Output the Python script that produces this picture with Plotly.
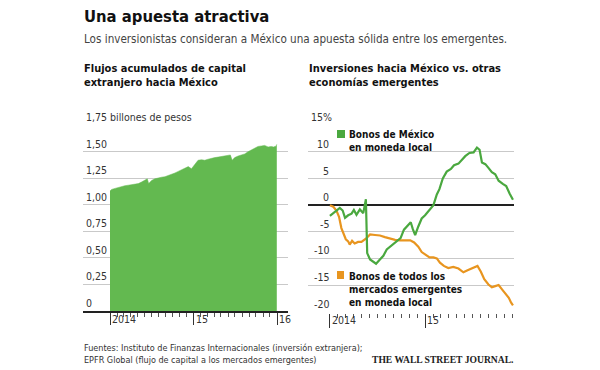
import plotly.graph_objects as go
import pandas as pd

# ---------------- data ----------------
flow_dates = ["2014-01-01","2014-01-08","2014-01-23","2014-02-06","2014-02-21","2014-03-07","2014-03-22",
              "2014-04-05","2014-04-20","2014-05-05","2014-05-19","2014-06-03","2014-06-13","2014-06-19",
              "2014-07-02","2014-07-16","2014-07-31","2014-08-14","2014-08-29","2014-09-12","2014-09-27",
              "2014-10-12","2014-10-26","2014-11-10","2014-11-24","2014-12-09","2014-12-23","2015-01-07",
              "2015-01-21","2015-02-05","2015-02-19","2015-03-06","2015-03-20","2015-04-04","2015-04-19",
              "2015-05-03","2015-05-18","2015-06-01","2015-06-11","2015-06-19","2015-06-30","2015-07-15",
              "2015-07-29","2015-08-13","2015-08-27","2015-09-11","2015-09-26","2015-10-10","2015-10-25",
              "2015-11-08","2015-11-23","2015-12-07","2015-12-17","2015-12-29","2015-12-31"]
flow_values = [1.13,1.145,1.155,1.165,1.17,1.18,1.185,
               1.19,1.19,1.20,1.215,1.235,1.245,1.20,
               1.23,1.245,1.255,1.26,1.265,1.275,1.285,
               1.30,1.315,1.33,1.35,1.36,1.34,1.38,
               1.42,1.425,1.42,1.43,1.44,1.445,1.45,
               1.455,1.46,1.465,1.47,1.42,1.445,1.46,
               1.47,1.48,1.50,1.515,1.535,1.55,1.555,
               1.56,1.545,1.55,1.545,1.555,1.57]

mx_dates = ["2014-01-01","2014-01-14","2014-02-08","2014-02-19","2014-02-28","2014-03-12","2014-03-25",
            "2014-04-03","2014-04-13","2014-04-26","2014-05-09","2014-05-19","2014-05-24","2014-06-04",
            "2014-06-16","2014-06-27","2014-07-10","2014-07-25","2014-08-07","2014-08-26","2014-09-14",
            "2014-09-29","2014-10-12","2014-10-29","2014-11-07","2014-11-15","2014-11-24","2014-12-06",
            "2014-12-19","2015-01-01","2015-01-18","2015-02-02","2015-02-15","2015-02-25","2015-03-10",
            "2015-03-25","2015-04-10","2015-04-22","2015-05-09","2015-05-22","2015-06-04","2015-06-20",
            "2015-07-06","2015-07-19","2015-07-29","2015-08-07","2015-08-20","2015-09-01","2015-09-14",
            "2015-09-27","2015-10-10","2015-10-26","2015-11-08","2015-11-21","2015-12-04"]
mx_values = [-2.0,-1.5,-0.5,-1.0,-2.4,-1.9,-1.6,
             -0.9,-1.8,-0.8,-1.5,1.1,-9.0,-10.2,
             -10.6,-11.0,-10.3,-9.5,-8.3,-7.6,-6.9,
             -6.2,-4.6,-3.8,-3.2,-4.5,-5.6,-4.0,
             -2.5,-1.9,-1.0,0.0,2.0,3.0,5.0,
             6.3,6.8,7.5,7.8,8.5,9.2,9.8,
             9.9,10.8,10.4,8.0,7.7,7.0,6.2,
             5.8,4.6,4.0,3.6,2.2,1.0]

em_dates = ["2014-01-01","2014-01-14","2014-01-26","2014-02-05","2014-02-14","2014-02-23","2014-03-03",
            "2014-03-12","2014-03-18","2014-03-27","2014-04-06","2014-04-19","2014-05-02","2014-05-19",
            "2014-06-04","2014-06-23","2014-07-12","2014-07-31","2014-08-20","2014-09-08","2014-09-27",
            "2014-10-16","2014-11-05","2014-11-20","2014-12-06","2014-12-19","2015-01-01","2015-01-18",
            "2015-02-02","2015-02-15","2015-02-27","2015-03-14","2015-03-31","2015-04-19","2015-05-09",
            "2015-05-28","2015-06-13","2015-06-30","2015-07-21","2015-08-03","2015-08-16","2015-09-01",
            "2015-09-14","2015-09-27","2015-10-10","2015-10-23","2015-11-05","2015-11-18","2015-11-27",
            "2015-12-04"]
em_values = [0.0,-0.3,-1.0,-2.2,-4.3,-5.5,-6.4,
             -6.8,-7.4,-6.7,-7.2,-6.9,-6.9,-6.3,
             -5.5,-5.6,-5.7,-6.0,-6.3,-6.5,-6.6,
             -6.6,-6.6,-7.0,-7.8,-8.8,-9.3,-9.8,
             -9.8,-10.0,-10.8,-11.4,-11.8,-11.6,-11.9,
             -12.6,-12.2,-11.9,-11.4,-12.5,-13.9,-14.9,
             -15.4,-15.2,-15.0,-15.8,-16.6,-17.4,-18.3,
             -18.8]

left_ytick_vals = [0, 0.25, 0.5, 0.75, 1.0, 1.25, 1.5, 1.75]
left_ytick_text = ["0", "0,25", "0,50", "0,75", "1,00", "1,25", "1,50", "1,75 billones de pesos"]
right_ytick_vals = [-20, -15, -10, -5, 0, 5, 10, 15]
right_ytick_text = ["-20", "-15", "-10", "-5", "0", "5", "10", "15%"]
left_xtick_vals = ["2014-01-01", "2015-01-01", "2016-01-01"]
left_xtick_text = ["2014", "15", "16"]
right_xtick_vals = ["2014-01-01", "2015-01-01"]
right_xtick_text = ["2014", "15"]

# ---------------- styling ----------------
# the page body has an 8px margin, so the figure is sized/offset to fill the 600x370 window
OX, OY = 8, 8
W, H = 600 - OX, 370 - OY
FONT = "DejaVu Sans Condensed, Liberation Sans Narrow, sans-serif"
GREEN_FILL = "#63b950"
GREEN_LINE = "#4aa83f"
ORANGE = "#e8951f"
GRID = "#c9c9c9"
TXT = "#222222"

def px(x):
    return (x - OX) / W

def py(y):
    return 1 - (y - OY) / H

left_minor = [d.strftime("%Y-%m-%d") for d in pd.date_range("2014-02-01", "2015-12-01", freq="MS")]
right_minor = [d.strftime("%Y-%m-%d") for d in pd.date_range("2014-02-01", "2015-12-01", freq="MS")]

fig = go.Figure()
fig.add_trace(go.Scatter(x=flow_dates, y=flow_values, mode="lines", fill="tozeroy",
                         fillcolor=GREEN_FILL, line=dict(color=GREEN_FILL, width=0.5),
                         xaxis="x", yaxis="y", hoverinfo="skip"))
fig.add_trace(go.Scatter(x=em_dates, y=em_values, mode="lines",
                         line=dict(color=ORANGE, width=2.2), xaxis="x2", yaxis="y2"))
fig.add_trace(go.Scatter(x=mx_dates, y=mx_values, mode="lines",
                         line=dict(color=GREEN_LINE, width=2.2), xaxis="x2", yaxis="y2"))

fig.update_layout(
    width=W, height=H, margin=dict(l=0, r=0, t=0, b=0),
    paper_bgcolor="white", plot_bgcolor="white", showlegend=False,
    font=dict(family=FONT, color=TXT, size=11),
    xaxis=dict(type="date", domain=[px(83), px(288)], range=["2013-09-05", "2016-02-18"],
               showgrid=False, zeroline=False, showline=True, linecolor="#222", linewidth=1.5,
               tickvals=left_xtick_vals, showticklabels=False, ticks="outside", ticklen=12,
               tickwidth=1.2, tickcolor="#333",
               minor=dict(tickvals=left_minor, ticks="outside", ticklen=4, tickcolor="#555",
                          tickwidth=1, showgrid=False),
               anchor="y", fixedrange=True),
    yaxis=dict(domain=[py(311), py(125)], range=[0, 1.752], showgrid=True, gridcolor=GRID,
               gridwidth=1, tickvals=left_ytick_vals, showticklabels=False, zeroline=False,
               anchor="x", fixedrange=True),
    xaxis2=dict(type="date", domain=[px(308), px(514)], range=["2013-10-09", "2015-12-08"],
                showgrid=False, zeroline=False, showline=False,
                tickvals=right_xtick_vals, showticklabels=False, ticks="outside", ticklen=14,
                tickwidth=1.2, tickcolor="#333",
                minor=dict(tickvals=right_minor, ticks="outside", ticklen=4, tickcolor="#555",
                           tickwidth=1, showgrid=False),
                anchor="y2", fixedrange=True),
    yaxis2=dict(domain=[py(312.5), py(125)], range=[-20.15, 15.05], showgrid=True, gridcolor=GRID,
                gridwidth=1, tickvals=right_ytick_vals, showticklabels=False,
                zeroline=True, zerolinecolor="#222", zerolinewidth=1.6,
                anchor="x2", fixedrange=True),
)

ann = []
# titles
ann.append(dict(text="<b>Una apuesta atractiva</b>", x=px(82), y=py(17), xref="paper", yref="paper",
                xanchor="left", yanchor="middle", showarrow=False, font=dict(size=16.5, color="#111")))
ann.append(dict(text="Los inversionistas consideran a México una apuesta sólida entre los emergentes.",
                x=px(82), y=py(39), xref="paper", yref="paper", xanchor="left", yanchor="middle",
                showarrow=False, font=dict(size=11.6, color="#444")))
ann.append(dict(text="<b>Flujos acumulados de capital<br>extranjero hacia México</b>",
                x=px(82), y=py(60), xref="paper", yref="paper", xanchor="left", yanchor="top",
                align="left", showarrow=False, font=dict(size=11, color="#111")))
ann.append(dict(text="<b>Inversiones hacia México vs. otras<br>economías emergentes</b>",
                x=px(307), y=py(60), xref="paper", yref="paper", xanchor="left", yanchor="top",
                align="left", showarrow=False, font=dict(size=11, color="#111")))

# y tick labels
for v, t in zip(left_ytick_vals, left_ytick_text):
    ann.append(dict(text=t, x=px(84), y=v, xref="paper", yref="y", xanchor="left", yanchor="bottom",
                    yshift=0, showarrow=False, font=dict(size=10.5, color="#333")))
for v, t in zip(right_ytick_vals, right_ytick_text):
    ann.append(dict(text=t, x=px(331) if t != "15%" else px(334), y=v, xref="paper", yref="y2",
                    xanchor="right", yanchor="bottom",
                    yshift=0, showarrow=False, font=dict(size=10.5, color="#333")))
# x tick labels
for v, t in zip(left_xtick_vals, left_xtick_text):
    ann.append(dict(text=t, x=v, y=py(319), xref="x", yref="paper", xanchor="left", yanchor="middle",
                    xshift=0, showarrow=False, font=dict(size=10.5, color="#333")))
for v, t in zip(right_xtick_vals, right_xtick_text):
    ann.append(dict(text=t, x=v, y=py(320), xref="x2", yref="paper", xanchor="left", yanchor="middle",
                    xshift=0, showarrow=False, font=dict(size=10.5, color="#333")))

# legend labels
ann.append(dict(text="<b>Bonos de México<br>en moneda local</b>", x=px(347), y=py(126.5),
                xref="paper", yref="paper", xanchor="left", yanchor="top", align="left",
                showarrow=False, font=dict(size=10, color="#111")))
ann.append(dict(text="<b>Bonos de todos los<br>mercados emergentes<br>en moneda local</b>",
                x=px(347), y=py(268.5), xref="paper", yref="paper", xanchor="left", yanchor="top",
                align="left", showarrow=False, font=dict(size=10, color="#111")))

# footer
ann.append(dict(text="Fuentes: Instituto de Finanzas Internacionales (inversión extranjera);<br>"
                     "EPFR Global (flujo de capital a los mercados emergentes)",
                x=px(82), y=py(341), xref="paper", yref="paper", xanchor="left", yanchor="top",
                align="left", showarrow=False, font=dict(size=9, color="#333")))
ann.append(dict(text="<b>THE WALL STREET JOURNAL.</b>", x=px(370), y=py(359), xref="paper", yref="paper",
                xanchor="left", yanchor="middle", showarrow=False,
                font=dict(size=9.6, color="#222", family="Liberation Serif, DejaVu Serif, serif")))

fig.update_layout(annotations=ann)

fig.update_layout(shapes=[
    dict(type="rect", xref="paper", yref="paper", x0=px(337), x1=px(345), y0=py(138), y1=py(130),
         fillcolor=GREEN_LINE, line=dict(width=0)),
    dict(type="rect", xref="paper", yref="paper", x0=px(337), x1=px(344), y0=py(279), y1=py(271),
         fillcolor=ORANGE, line=dict(width=0)),
])

fig.write_html("out.html")
